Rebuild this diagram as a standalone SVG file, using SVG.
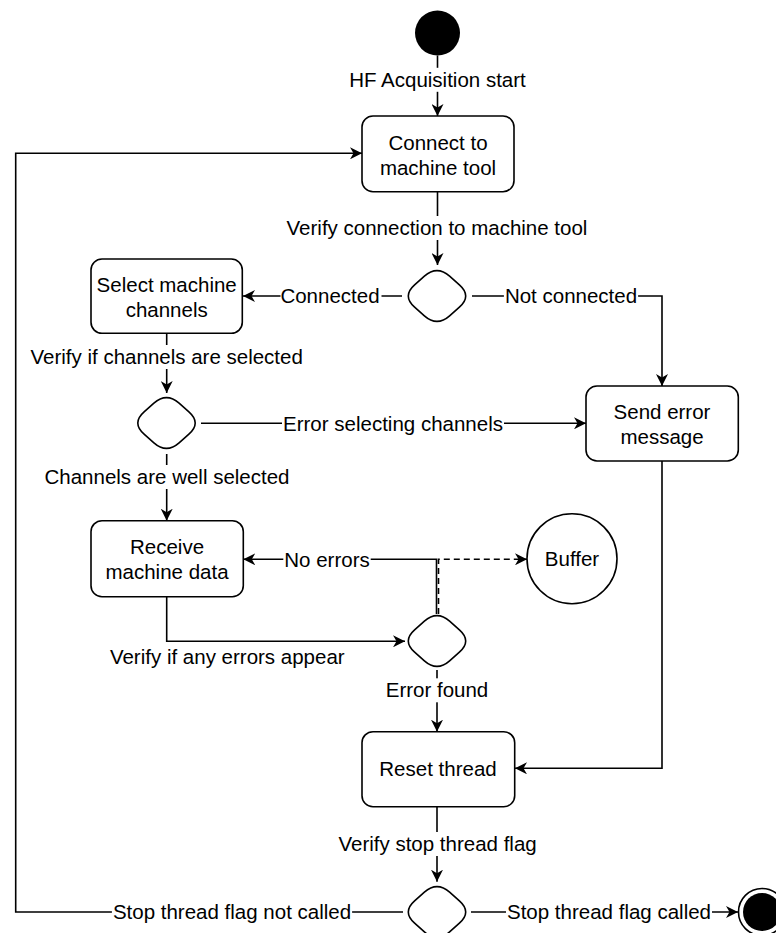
<svg xmlns="http://www.w3.org/2000/svg" xmlns:xlink="http://www.w3.org/1999/xlink" width="776" height="933" viewBox="0 0 776 933">
  <style>
    text { font-family: "Liberation Sans", Arial, Helvetica, sans-serif; font-size: 20.5px; fill: #000; text-anchor: middle; }
    .box { fill: #fff; stroke: #000; stroke-width: 1.6; }
    .dia { fill: #fff; stroke: #000; stroke-width: 1.6; }
    .edge { fill: none; stroke: #000; stroke-width: 1.6; }
    .arrow { marker-end: url(#arr); }
    .dash { stroke-dasharray: 6 4; }
    .lblbg { fill: #fff; stroke: none; }
  </style>
  <defs>
    <marker id="arr" markerWidth="13" markerHeight="12" refX="12" refY="6" orient="auto" markerUnits="userSpaceOnUse">
      <path d="M0,0 L12,6 L0,12 L3.5,6 Z" fill="#000"/>
    </marker>
    <!-- rounded decision rhombus centred on the origin -->
    <path id="diamond" d="M -12.6,-19.84 Q 0,-31 12.6,-19.84 L 22.4,-11.16 Q 35,0 22.4,11.16 L 12.6,19.84 Q 0,31 -12.6,19.84 L -22.4,11.16 Q -35,0 -22.4,-11.16 Z"/>
  </defs>

  <rect width="776" height="933" fill="#fff"/>

  <!-- connectors -->
  <g id="connectors">
    <path class="edge arrow" d="M437.5,55.5 L437.5,116"/>
    <path class="edge arrow" d="M437.5,191.7 L437.5,265"/>
    <path class="edge arrow" d="M402,296 L243,296"/>
    <path class="edge arrow" d="M472,296 L662,296 L662,386"/>
    <path class="edge arrow" d="M166.7,333.3 L166.7,393"/>
    <path class="edge arrow" d="M201,423.3 L586,423.3"/>
    <path class="edge arrow" d="M166.7,454 L166.7,520.7"/>
    <path class="edge arrow" d="M166.7,596.7 L166.7,641.3 L405,641.3"/>
    <path class="edge arrow" d="M436.5,614 L436.5,559.3 L243.3,559.3"/>
    <path class="edge dash arrow" d="M438.5,614 L438.5,559.3 L527,559.3"/>
    <path class="edge arrow" d="M437,670 L437,731.7"/>
    <path class="edge arrow" d="M662,461 L662,768.3 L515,768.3"/>
    <path class="edge arrow" d="M437,806.7 L437,881.7"/>
    <path class="edge arrow" d="M403,912 L15.7,912 L15.7,153.3 L362,153.3"/>
    <path class="edge arrow" d="M471,912 L738,912"/>

    <!-- connector labels -->
    <rect class="lblbg" x="345.6" y="67.8" width="183.8" height="24"/>
    <text x="437.5" y="86.8">HF Acquisition start</text>

    <rect class="lblbg" x="286" y="216" width="304" height="24"/>
    <text x="437" y="235">Verify connection to machine tool</text>

    <rect class="lblbg" x="280.5" y="284.4" width="101" height="24"/>
    <text x="330" y="303.4">Connected</text>

    <rect class="lblbg" x="503.9" y="284.4" width="134.2" height="24"/>
    <text x="571" y="303.4">Not connected</text>

    <rect class="lblbg" x="29" y="345" width="275.5" height="24"/>
    <text x="166.7" y="364">Verify if channels are selected</text>

    <rect class="lblbg" x="282" y="411.7" width="222" height="24"/>
    <text x="393" y="430.7">Error selecting channels</text>

    <rect class="lblbg" x="43.5" y="465" width="247" height="24"/>
    <text x="167" y="484">Channels are well selected</text>

    <rect class="lblbg" x="283.3" y="547.7" width="87.4" height="24"/>
    <text x="327" y="566.7">No errors</text>

    <text x="227.3" y="664">Verify if any errors appear</text>

    <rect class="lblbg" x="385.7" y="678.3" width="104.5" height="24"/>
    <text x="437" y="697.3">Error found</text>

    <rect class="lblbg" x="335.6" y="832" width="204.8" height="24"/>
    <text x="437.6" y="851">Verify stop thread flag</text>

    <rect class="lblbg" x="111.9" y="900" width="240.2" height="24"/>
    <text x="232" y="919">Stop thread flag not called</text>

    <rect class="lblbg" x="506" y="900" width="206" height="24"/>
    <text x="609" y="919">Stop thread flag called</text>
  </g>

  <!-- nodes -->
  <g id="start">
    <circle cx="437.5" cy="33" r="22.5" fill="#000"/>
  </g>

  <g id="connect">
    <rect class="box" x="362" y="116" width="152" height="75.7" rx="11"/>
    <text x="438" y="149.5">Connect to</text>
    <text x="438" y="174.5">machine tool</text>
  </g>

  <g id="check-connection">
    <use xlink:href="#diamond" class="dia" x="437" y="296"/>
  </g>

  <g id="select-channels">
    <rect class="box" x="91" y="259" width="151.3" height="74.3" rx="11"/>
    <text x="166.7" y="292.2">Select machine</text>
    <text x="166.7" y="317.2">channels</text>
  </g>

  <g id="send-error">
    <rect class="box" x="586" y="386" width="152.3" height="75" rx="11"/>
    <text x="662" y="419">Send error</text>
    <text x="662" y="444">message</text>
  </g>

  <g id="check-channels">
    <use xlink:href="#diamond" class="dia" x="166.5" y="423"/>
  </g>

  <g id="receive-data">
    <rect class="box" x="91" y="520.7" width="152.3" height="76" rx="11"/>
    <text x="167" y="554.2">Receive</text>
    <text x="167" y="579.2">machine data</text>
  </g>

  <g id="buffer">
    <circle class="box" cx="572" cy="558.7" r="45"/>
    <text x="572" y="566.4">Buffer</text>
  </g>

  <g id="check-errors">
    <use xlink:href="#diamond" class="dia" x="437" y="641"/>
  </g>

  <g id="reset-thread">
    <rect class="box" x="362" y="731.7" width="152.7" height="75" rx="11"/>
    <text x="438" y="776.4">Reset thread</text>
  </g>

  <g id="check-stop">
    <use xlink:href="#diamond" class="dia" x="437" y="912"/>
  </g>

  <g id="end">
    <circle cx="762" cy="912" r="23.5" fill="#fff" stroke="#000" stroke-width="1.6"/>
    <circle cx="762" cy="912" r="19" fill="#000"/>
  </g>
</svg>
